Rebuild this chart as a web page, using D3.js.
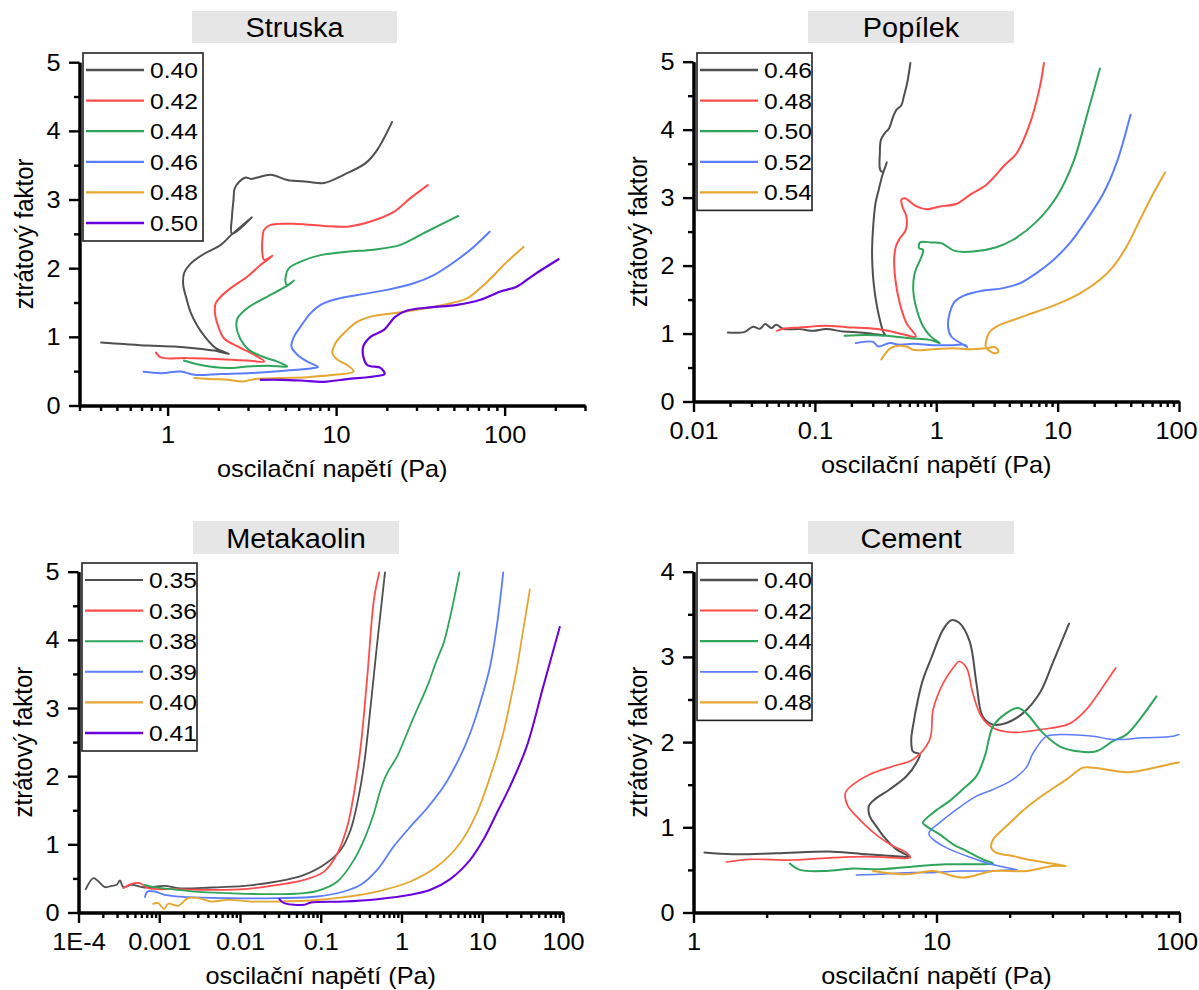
<!DOCTYPE html>
<html><head><meta charset="utf-8">
<script src="https://cdn.jsdelivr.net/npm/d3@7"></script>
<style>body{margin:0;background:#fff}svg{display:block}text{font-family:Arial,"Liberation Sans",sans-serif;fill:#000}</style>
</head><body><svg id="c" width="1199" height="990"></svg>
<script>
// ---------- DATA ----------
// Struska
const struskaLabels = ["0.40","0.42","0.44","0.46","0.48","0.50"];
const struska040 = [[0.403,0.917],[0.553,0.894],[0.76,0.873],[1.094,0.859],[1.44,0.835],[1.89,0.80],[2.32,0.75],[1.93,0.835],[1.69,0.98],[1.51,1.15],[1.375,1.345],[1.30,1.54],[1.238,1.757],[1.254,1.93],[1.375,2.07],[1.65,2.21],[2.07,2.34],[2.39,2.485],[3.16,2.74],[2.41,2.5],[2.41,2.75],[2.46,2.99],[2.5,3.16],[2.66,3.26],[2.91,3.32],[3.12,3.30],[3.41,3.32],[4.09,3.36],[5.14,3.285],[6.75,3.26],[8.47,3.24],[11.1,3.36],[14.96,3.53],[17.5,3.72],[21.5,4.13]];
const struska042 = [[0.853,0.77],[0.912,0.70],[1.31,0.69],[2.07,0.675],[2.98,0.655],[3.74,0.64],[3.26,0.74],[2.6,0.86],[2.16,0.98],[2.0,1.15],[1.91,1.345],[1.93,1.49],[2.07,1.587],[2.37,1.71],[2.98,1.88],[3.57,2.05],[4.19,2.18],[3.74,2.12],[3.65,2.22],[3.65,2.41],[3.74,2.56],[4.09,2.63],[5.89,2.645],[8.47,2.615],[11.6,2.605],[16.0,2.68],[22.0,2.82],[27.6,3.02],[35.0,3.21]];
const struska044 = [[1.25,0.655],[1.57,0.59],[2.27,0.545],[2.98,0.568],[3.91,0.58],[5.14,0.568],[4.48,0.64],[3.65,0.713],[3.04,0.81],[2.69,0.98],[2.56,1.15],[2.6,1.27],[2.98,1.42],[3.91,1.587],[5.02,1.73],[5.62,1.82],[5.1,1.757],[5.02,1.88],[5.25,2.0],[6.16,2.096],[8.09,2.19],[11.6,2.24],[16.7,2.27],[24.1,2.34],[33.1,2.51],[43.5,2.655],[53,2.76]];
const struska046 = [[0.72,0.49],[0.912,0.47],[1.2,0.495],[1.44,0.447],[2.07,0.46],[2.98,0.47],[4.28,0.495],[5.89,0.52],[7.39,0.545],[7.8,0.56],[6.75,0.64],[5.89,0.74],[5.43,0.86],[5.62,1.0],[6.16,1.15],[7.06,1.345],[8.09,1.466],[9.7,1.54],[13.4,1.61],[20.1,1.684],[28.9,1.78],[38,1.90],[52.2,2.12],[65.5,2.31],[81.5,2.53]];
const struska048 = [[1.44,0.40],[1.89,0.384],[2.27,0.374],[2.78,0.35],[3.26,0.384],[4.69,0.40],[6.75,0.413],[9.7,0.447],[12.7,0.495],[11.6,0.59],[10.2,0.665],[9.5,0.763],[9.93,0.91],[11.1,1.05],[13.4,1.22],[16.7,1.305],[23.0,1.35],[34.7,1.42],[49.9,1.50],[59.9,1.56],[78.7,1.80],[101,2.07],[129.6,2.31]];
const struska050 = [[3.57,0.374],[4.69,0.374],[6.16,0.364],[8.47,0.345],[11.6,0.384],[16.7,0.422],[19.4,0.46],[18.4,0.545],[15.3,0.59],[14.5,0.713],[14.5,0.86],[16.0,1.0],[19.2,1.10],[22.5,1.295],[26.4,1.383],[36.3,1.43],[52.2,1.466],[71.8,1.54],[94.4,1.66],[118,1.73],[148.5,1.90],[209,2.13]];
const struskaXTicks = [1,10,100];
const struskaXLabels = ["1","10","100"];

// Popílek
const popilekLabels = ["0.46","0.48","0.50","0.52","0.54"];
const popilek046 = [[0.0192,1.015],[0.0264,1.025],[0.031,1.10],[0.0352,1.07],[0.039,1.14],[0.0437,1.08],[0.048,1.128],[0.0547,1.07],[0.075,1.065],[0.0966,1.04],[0.124,1.065],[0.171,1.03],[0.234,1.015],[0.302,0.995],[0.377,0.98],[0.365,1.03],[0.338,1.25],[0.318,1.496],[0.305,1.74],[0.298,1.985],[0.296,2.23],[0.302,2.57],[0.316,2.92],[0.335,3.11],[0.36,3.33],[0.392,3.52],[0.362,3.38],[0.345,3.41],[0.343,3.65],[0.35,3.85],[0.377,3.95],[0.409,4.02],[0.441,4.19],[0.47,4.29],[0.516,4.36],[0.541,4.49],[0.575,4.68],[0.612,4.98]];
const popilek048 = [[0.0488,1.04],[0.0547,1.07],[0.075,1.088],[0.124,1.113],[0.182,1.094],[0.266,1.08],[0.389,1.044],[0.533,0.99],[0.679,0.956],[0.568,1.153],[0.501,1.447],[0.465,1.74],[0.45,2.08],[0.465,2.28],[0.501,2.40],[0.561,2.525],[0.568,2.72],[0.526,2.87],[0.516,2.97],[0.551,2.99],[0.687,2.87],[0.832,2.83],[1.07,2.87],[1.47,2.91],[1.89,3.04],[2.59,3.19],[3.67,3.48],[4.58,3.65],[5.91,4.09],[7.14,4.63],[7.71,4.98]];
const popilek050 = [[0.176,0.966],[0.266,0.98],[0.389,0.966],[0.605,0.932],[0.885,0.907],[1.07,0.859],[0.912,0.947],[0.78,1.103],[0.679,1.40],[0.646,1.64],[0.665,1.89],[0.755,2.13],[0.78,2.23],[0.723,2.256],[0.733,2.34],[0.912,2.34],[1.10,2.33],[1.42,2.216],[2.01,2.206],[3.13,2.27],[4.3,2.38],[6.7,2.647],[9.8,3.01],[13.4,3.51],[17.3,4.19],[22.3,4.90]];
const popilek052 = [[0.217,0.859],[0.302,0.878],[0.332,0.81],[0.414,0.859],[0.501,0.834],[0.646,0.849],[0.944,0.829],[1.38,0.829],[1.72,0.834],[1.80,0.80],[1.56,0.868],[1.33,0.956],[1.25,1.103],[1.29,1.30],[1.42,1.47],[1.67,1.554],[2.44,1.632],[3.56,1.668],[4.89,1.74],[6.7,1.89],[9.18,2.08],[12.6,2.33],[17.3,2.67],[23.8,3.06],[30.6,3.51],[39.9,4.22]];
const popilek054 = [[0.353,0.62],[0.428,0.794],[0.568,0.81],[0.646,0.76],[0.944,0.77],[1.38,0.785],[1.89,0.77],[2.59,0.785],[3.05,0.80],[3.25,0.735],[3.05,0.71],[2.68,0.76],[2.56,0.80],[2.59,0.907],[2.77,1.03],[3.13,1.103],[4.3,1.20],[6.7,1.32],[10.4,1.447],[15.3,1.59],[22.3,1.79],[28.7,1.985],[37,2.28],[47.6,2.67],[61.4,3.06],[76.7,3.37]];
const popilekXTicks = [0.01,0.1,1,10,100];
const popilekXLabels = ["0.01","0.1","1","10","100"];

// Metakaolin
const metakaolinLabels = ["0.35","0.36","0.38","0.39","0.40","0.41"];
const meta035 = [[1.23e-4,0.343],[1.53e-4,0.504],[1.77e-4,0.455],[2.13e-4,0.372],[2.58e-4,0.39],[2.97e-4,0.406],[3.27e-4,0.47],[3.59e-4,0.372],[4.55e-4,0.406],[6.64e-4,0.367],[1.17e-3,0.39],[1.71e-3,0.357],[4.4e-3,0.367],[0.01135,0.39],[0.0292,0.455],[0.0624,0.553],[0.110,0.70],[0.177,0.92],[0.234,1.21],[0.30,1.75],[0.35,2.24],[0.41,2.97],[0.50,3.95],[0.625,4.99]];
const meta036 = [[3.59e-4,0.357],[4.55e-4,0.42],[5.75e-4,0.43],[7.3e-4,0.357],[1.71e-3,0.343],[4.4e-3,0.333],[0.01135,0.343],[0.0292,0.406],[0.0624,0.48],[0.11,0.60],[0.161,0.87],[0.213,1.26],[0.258,1.75],[0.312,2.43],[0.377,3.46],[0.455,4.585],[0.53,4.99]];
const meta038 = [[6.64e-4,0.406],[8.81e-4,0.372],[1.71e-3,0.333],[3.02e-3,0.303],[7.08e-3,0.284],[0.0182,0.27],[0.047,0.275],[0.091,0.318],[0.161,0.455],[0.258,0.773],[0.343,1.066],[0.455,1.457],[0.55,1.80],[0.664,2.044],[0.883,2.29],[1.17,2.63],[1.42,2.87],[2.07,3.31],[2.75,3.71],[3.32,3.95],[4.01,4.34],[5.22,4.99]];
const meta039 = [[6.64e-4,0.226],[7.16e-4,0.308],[8.81e-4,0.308],[1.17e-3,0.26],[2.27e-3,0.226],[7.08e-3,0.211],[0.0292,0.211],[0.091,0.235],[0.194,0.308],[0.312,0.406],[0.5,0.626],[0.80,0.968],[1.29,1.26],[2.07,1.53],[3.32,1.847],[5.33,2.29],[7.08,2.63],[9.4,3.07],[12.5,3.61],[15.1,4.19],[18.2,4.99]];
const meta040 = [[8.4e-4,0.128],[9.7e-4,0.137],[1.15e-3,0.05],[1.29e-3,0.128],[1.71e-3,0.098],[2.27e-3,0.211],[3.02e-3,0.211],[4.4e-3,0.161],[7.08e-3,0.186],[0.0137,0.161],[0.0292,0.161],[0.0753,0.176],[0.194,0.226],[0.5,0.308],[1.29,0.455],[2.75,0.674],[5.33,1.02],[8.55,1.457],[12.5,1.99],[15.1,2.29],[18.2,2.63],[22.0,3.07],[26.6,3.56],[32.2,4.15],[38.9,4.74]];
const meta041 = [[0.0307,0.196],[0.0353,0.137],[0.0624,0.113],[0.0753,0.147],[0.194,0.161],[0.5,0.196],[1.29,0.26],[2.28,0.333],[4.01,0.49],[7.08,0.773],[10.3,1.066],[15.1,1.457],[22.0,1.847],[35.4,2.43],[56.8,3.31],[91.2,4.19]];
const metakaolinXTicks = [1e-4,1e-3,1e-2,0.1,1,10,100];
const metakaolinXLabels = ["1E-4","0.001","0.01","0.1","1","10","100"];

// Cement
const cementLabels = ["0.40","0.42","0.44","0.46","0.48"];
const cement040 = [[1.11,0.703],[1.45,0.683],[2.19,0.694],[3.75,0.714],[5.14,0.683],[6.62,0.663],[7.71,0.656],[6.84,0.741],[6.12,0.878],[5.65,1.014],[5.31,1.131],[5.27,1.248],[5.57,1.327],[6.41,1.444],[7.52,1.60],[8.26,1.756],[8.53,1.854],[8.0,1.89],[7.87,2.03],[8.0,2.185],[8.39,2.50],[8.79,2.73],[9.53,2.99],[10.64,3.32],[11.5,3.43],[12.4,3.40],[13.7,3.18],[14.6,2.69],[15.5,2.30],[17.1,2.205],[19.4,2.225],[22.7,2.34],[26.6,2.576],[30.1,2.93],[35.1,3.39]];
const cement042 = [[1.365,0.593],[1.70,0.624],[2.56,0.616],[3.75,0.644],[5.14,0.656],[6.62,0.644],[7.8,0.644],[7.52,0.703],[6.62,0.78],[5.74,0.897],[5.14,1.014],[4.68,1.131],[4.32,1.248],[4.22,1.405],[4.53,1.50],[5.31,1.62],[6.62,1.717],[8.0,1.795],[9.38,2.03],[9.68,2.38],[10.64,2.69],[11.7,2.87],[12.4,2.946],[13.3,2.87],[14.1,2.576],[15.3,2.30],[17.1,2.166],[20.6,2.115],[26.6,2.146],[35.3,2.217],[41.3,2.38],[48.4,2.65],[54.6,2.87]];
const cement044 = [[2.49,0.574],[2.74,0.50],[3.52,0.487],[4.53,0.515],[5.84,0.507],[8.53,0.546],[10.96,0.566],[15.1,0.566],[17.1,0.577],[15.5,0.624],[13.3,0.721],[11.7,0.80],[10.3,0.917],[9.08,1.014],[8.79,1.054],[9.68,1.171],[11.3,1.307],[12.8,1.444],[14.6,1.60],[15.8,1.834],[17.1,2.185],[19.4,2.34],[21.6,2.40],[23.4,2.34],[27.4,2.108],[32.1,1.951],[38.8,1.889],[45.5,1.893],[53.2,2.01],[60.4,2.088],[68.5,2.264],[80.4,2.536]];
const cement046 = [[4.68,0.44],[5.84,0.448],[7.52,0.468],[9.68,0.468],[12.4,0.487],[16.0,0.487],[19.5,0.499],[21.5,0.5],[19.4,0.527],[16.0,0.585],[13.3,0.663],[10.96,0.761],[9.68,0.858],[9.31,0.917],[9.38,0.955],[10.3,1.054],[12.1,1.21],[14.6,1.365],[17.1,1.444],[20.6,1.56],[23.4,1.70],[25,1.873],[28.3,2.068],[32.1,2.088],[44.1,2.068],[53.2,2.03],[70.8,2.05],[94,2.068],[99.5,2.09]];
const cement048 = [[5.48,0.487],[7.52,0.448],[9.68,0.487],[12.8,0.41],[17.1,0.487],[23.4,0.487],[30.1,0.546],[34.2,0.546],[28.3,0.585],[23.4,0.624],[20.6,0.663],[17.6,0.703],[16.8,0.761],[17.1,0.858],[19.4,1.014],[23.4,1.23],[28.3,1.405],[34.2,1.56],[40.1,1.70],[44.1,1.70],[50,1.678],[60.4,1.646],[73,1.678],[94,1.748],[99.5,1.76]];
const cementXTicks = [1,10,100];
const cementXLabels = ["1","10","100"];

const yTicks5 = [0,1,2,3,4,5];
const yTicks4 = [0,1,2,3,4];

// ---------- STYLE / LAYOUT ----------
const COLORS = ["#4f4f4f","#ff4b4b","#2ea55a","#5b7cfd","#e6a630","#6a00e0"];
const SX = 1.1; // horizontal text stretch of the original picture
const svg = d3.select("#c");

function sText(g, x, y, txt, size, anchor, sx) {
  return g.append("text")
    .attr("transform", `translate(${x},${y}) scale(${sx||SX},1)`)
    .attr("text-anchor", anchor).attr("font-size", size).text(txt);
}

function minorTicks(dom) {
  const out = [];
  const lo = Math.floor(Math.log10(dom[0])), hi = Math.ceil(Math.log10(dom[1]));
  for (let k = lo; k <= hi; k++) for (let m = 2; m <= 9; m++) {
    const v = m * Math.pow(10, k);
    if (v >= dom[0] * 0.999 && v <= dom[1] * 1.001) out.push(v);
  }
  return out;
}

function drawPanel(p) {
  const x = d3.scaleLog().domain(p.xDomain).range([p.x0, p.x1]);
  const y = d3.scaleLinear().domain(p.yDomain).range([p.yb, p.yt]);
  const g = svg.append("g");

  // title box
  g.append("rect").attr("x", p.tb[0]).attr("y", p.tb[1])
    .attr("width", p.tb[2] - p.tb[0]).attr("height", p.tb[3] - p.tb[1]).attr("fill", "#e6e6e6");
  sText(g, (p.tb[0] + p.tb[2]) / 2, p.tb[3] - 5.7, p.title, 27, "middle", 1.07);

  // series
  const line = d3.line().x(d => x(d[0])).y(d => y(d[1])).curve(d3.curveCatmullRom.alpha(0.5));
  p.series.forEach((s, i) => {
    g.append("path").attr("d", line(s)).attr("fill", "none")
      .attr("stroke", COLORS[i]).attr("stroke-width", p.sw[i])
      .attr("stroke-linejoin", "round").attr("stroke-linecap", "round");
  });

  // x axis
  const gxm = g.append("g").attr("transform", `translate(0,${p.yb})`)
    .call(d3.axisBottom(x).tickValues(minorTicks(p.xDomain)).tickFormat("").tickSize(5.5).tickSizeOuter(0));
  const gx = g.append("g").attr("transform", `translate(0,${p.yb})`)
    .call(d3.axisBottom(x).tickValues(p.xTicks).tickFormat((d, i) => p.xLabels[i]).tickSize(10.5).tickSizeOuter(0).tickPadding(11));
  // y axis
  const minorY = d3.range(p.yDomain[0] + 0.5, p.yDomain[1], 1);
  const gym = g.append("g").attr("transform", `translate(${p.x0},0)`)
    .call(d3.axisLeft(y).tickValues(minorY).tickFormat("").tickSize(5.5).tickSizeOuter(0));
  const gy = g.append("g").attr("transform", `translate(${p.x0},0)`)
    .call(d3.axisLeft(y).tickValues(p.yTicks).tickFormat(d3.format("d")).tickSize(10.5).tickSizeOuter(0));

  [gxm, gx, gym, gy].forEach(a => {
    a.selectAll(".domain").attr("stroke", "#000").attr("stroke-width", 3);
    a.selectAll(".tick line").attr("stroke", "#000").attr("stroke-width", 2.4);
  });
  gx.selectAll(".tick text").attr("font-size", 23).attr("font-family", null)
    .attr("fill", "#000")
    .attr("transform", d => (x(d) > 1170 ? `translate(-3,0) ` : "") + `scale(${SX},1)`);
  gy.selectAll(".tick text").attr("font-size", 23).attr("font-family", null)
    .attr("fill", "#000").attr("x", 0).attr("dy", "0.35em")
    .attr("transform", `translate(-19,0) scale(${SX},1)`);

  // axis titles
  sText(g, (p.x0 + p.x1) / 2, p.yb + 71, "oscilační napětí (Pa)", 23, "middle");
  g.append("text")
    .attr("transform", `translate(${p.x0 - 47},${(p.yb + p.yt) / 2}) rotate(-90) scale(1,${SX})`)
    .attr("text-anchor", "middle").attr("font-size", 24).text("ztrátový faktor");

  // legend
  const L = p.legend;
  const n = p.labels.length;
  const h = 17 + (n - 1) * 30.6 + 18;
  g.append("rect").attr("x", L.x).attr("y", L.y).attr("width", L.w).attr("height", h)
    .attr("fill", "#fff").attr("stroke", "#222").attr("stroke-width", 1.6);
  p.labels.forEach((lab, i) => {
    const ly = L.y + 17 + i * 30.6;
    g.append("line").attr("x1", L.x + 3).attr("x2", L.x + 61).attr("y1", ly).attr("y2", ly)
      .attr("stroke", COLORS[i]).attr("stroke-width", p.sw[i] + 0.3);
    sText(g, L.x + 67, ly + 8, lab, 22, "start", 1.12);
  });
}

drawPanel({
  title: "Struska", tb: [192, 11, 397, 43],
  xDomain: [0.3, 300], x0: 79.5, x1: 585, yDomain: [0, 5], yb: 405.5, yt: 62.2,
  xTicks: struskaXTicks, xLabels: struskaXLabels, yTicks: yTicks5,
  series: [struska040, struska042, struska044, struska046, struska048, struska050],
  labels: struskaLabels, sw: [2, 2, 2, 2, 2, 2.2],
  legend: { x: 83, y: 53, w: 120 }
});
drawPanel({
  title: "Popílek", tb: [808, 11, 1014, 43],
  xDomain: [0.01, 100], x0: 693.5, x1: 1179, yDomain: [0, 5], yb: 401.5, yt: 61.7,
  xTicks: popilekXTicks, xLabels: popilekXLabels, yTicks: yTicks5,
  series: [popilek046, popilek048, popilek050, popilek052, popilek054],
  labels: popilekLabels, sw: [2, 2, 2, 2, 2],
  legend: { x: 697, y: 53, w: 115 }
});
drawPanel({
  title: "Metakaolin", tb: [193, 521, 399, 554],
  xDomain: [1e-4, 100], x0: 78.5, x1: 563, yDomain: [0, 5], yb: 912.5, yt: 571.7,
  xTicks: metakaolinXTicks, xLabels: metakaolinXLabels, yTicks: yTicks5,
  series: [meta035, meta036, meta038, meta039, meta040, meta041],
  labels: metakaolinLabels, sw: [1.8, 1.8, 1.8, 1.8, 1.8, 2],
  legend: { x: 82, y: 563, w: 115 }
});
drawPanel({
  title: "Cement", tb: [808, 521, 1014, 554],
  xDomain: [1, 100], x0: 693.5, x1: 1179.5, yDomain: [0, 4], yb: 912.5, yt: 571.7,
  xTicks: cementXTicks, xLabels: cementXLabels, yTicks: yTicks4,
  series: [cement040, cement042, cement044, cement046, cement048],
  labels: cementLabels, sw: [2, 1.7, 2, 1.5, 2],
  legend: { x: 697, y: 563, w: 115 }
});
</script></body></html>
